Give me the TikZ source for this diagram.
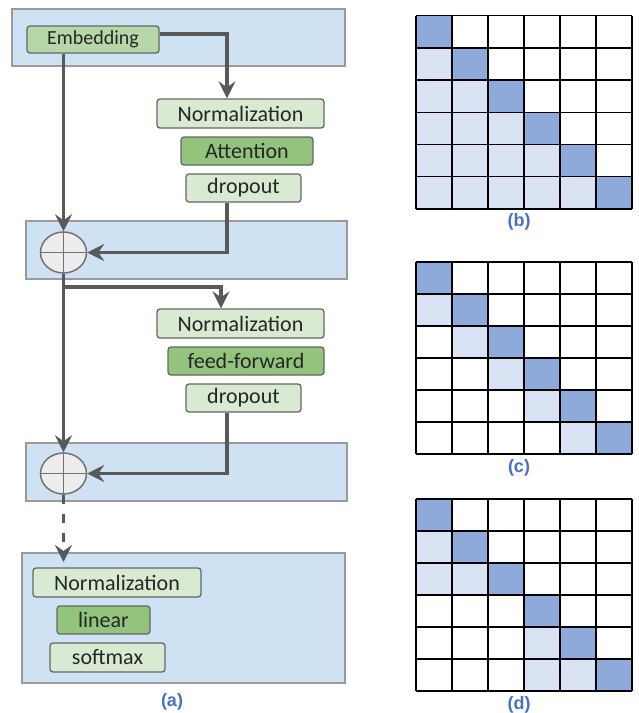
\documentclass[tikz,border=0pt]{standalone}
\usepackage{fontspec}
\setmainfont{Carlito}
\newfontfamily\labfont{Liberation Sans}
\usetikzlibrary{arrows.meta,shapes.geometric}
\definecolor{boxblue}{HTML}{CFE2F3}
\definecolor{boxedge}{HTML}{9A9A9A}
\definecolor{greenA}{HTML}{B6D7A8}
\definecolor{greenB}{HTML}{93C47D}
\definecolor{greenC}{HTML}{D9EAD3}
\definecolor{nodeedge}{HTML}{666666}
\definecolor{arrgray}{HTML}{595959}
\definecolor{celldark}{HTML}{8EAADB}
\definecolor{celllight}{HTML}{D9E2F3}
\definecolor{labblue}{HTML}{4472C4}
\tikzset{
  panel/.style={fill=boxblue, draw=boxedge, line width=1.3pt},
  blk/.style={draw=nodeedge, line width=1.3pt, rounded corners=3pt, inner sep=0pt,
    font=\fontsize{22}{26}\selectfont, text=black!85},
  lightblk/.style={blk, fill=greenC},
  darkblk/.style={blk, fill=greenB},
  arr/.style={draw=arrgray, line width=3.2pt, -{Stealth[length=17pt,width=17pt,inset=6pt]}},
  addop/.style={ellipse, draw=arrgray!85, line width=1.5pt, fill=black!7, minimum width=46pt, minimum height=41pt, inner sep=0pt},
  sublabel/.style={font=\labfont\bfseries\fontsize{18}{20}\selectfont, text=labblue},
  gridline/.style={draw=black, line width=1.5pt},
}
\begin{document}
\begin{tikzpicture}[x=1pt, y=-1pt]
\useasboundingbox (0,0) rectangle (639,713);
% panels
\draw[panel] (12,9) rectangle (345,66);
\draw[panel] (26,221) rectangle (347,279);
\draw[panel] (26,443) rectangle (347,501);
\draw[panel] (22,553) rectangle (345,683);
% blocks
\node[blk, fill=greenA, minimum width=132pt, minimum height=27pt, font=\fontsize{20}{24}\selectfont] (emb) at (93,39.5) {Embedding};
\node[lightblk, minimum width=167pt, minimum height=29pt] (norm1) at (240.5,113.5) {Normalization};
\node[darkblk, minimum width=132pt, minimum height=28pt] (att) at (247,151) {Attention};
\node[lightblk, minimum width=115pt, minimum height=28pt] (drop1) at (243.5,188) {dropout};
\node[lightblk, minimum width=167pt, minimum height=29pt] (norm2) at (240.5,323.5) {Normalization};
\node[darkblk, minimum width=156pt, minimum height=28pt] (ff) at (246,361) {feed-forward};
\node[lightblk, minimum width=115pt, minimum height=28pt] (drop2) at (243.5,398) {dropout};
\node[lightblk, minimum width=168pt, minimum height=29pt] (norm3) at (117,582.5) {Normalization};
\node[darkblk, minimum width=93pt, minimum height=28pt] (lin) at (103.5,620) {linear};
\node[lightblk, minimum width=115pt, minimum height=29pt] (soft) at (107.5,657.5) {softmax};
% add operators
\node[addop] (add1) at (63.5,252.5) {};
\draw[draw=arrgray!85, line width=1.5pt] (add1.north) -- (add1.south) (add1.west) -- (add1.east);
\node[addop] (add2) at (63.5,473.5) {};
\draw[draw=arrgray!85, line width=1.5pt] (add2.north) -- (add2.south) (add2.west) -- (add2.east);
% connectors
\coordinate (branch) at (63.5,287);
\coordinate (dashend) at (63.5,562);
\draw[arr] ([yshift=5.5pt]emb.east) -| ([xshift=-13.5pt]norm1.north);
\draw[arr] (add1.north |- emb.south) -- (add1.north);
\draw[arr] ([xshift=-16.5pt]drop1.south) |- (add1.east);
\draw[arr] (add1.south) -- (add2.north);
\draw[arr] (branch) -| ([xshift=-19.5pt]norm2.north);
\draw[arr] ([xshift=-16.5pt]drop2.south) |- (add2.east);
\draw[arr, dash pattern=on 9pt off 10pt] (add2.south) -- (dashend);
% labels
\node[sublabel] (la) at (172,702) {(a)};
\node[sublabel] (lb) at (519,222) {(b)};
\node[sublabel] (lc) at (519,468) {(c)};
\node[sublabel] (ld) at (519,705) {(d)};
% grid b
\begin{scope}[shift={(416,15.7)}, x=36pt, y=-32.2pt]
  \foreach \r in {1,...,5}{\foreach \c in {1,...,\r}{\fill[celllight] (\c-1,\r) rectangle ++(1,1);}}
  \foreach \i in {0,...,5}{\fill[celldark] (\i,\i) rectangle ++(1,1);}
  \foreach \i in {0,...,6}{\draw[gridline] (\i,0) -- (\i,6); \draw[gridline] (0,\i) -- (6,\i);}
\end{scope}
% grid c
\begin{scope}[shift={(416,262)}, x=36pt, y=-32pt]
  \foreach \r in {1,...,5}{\fill[celllight] (\r-1,\r) rectangle ++(1,1);}
  \foreach \i in {0,...,5}{\fill[celldark] (\i,\i) rectangle ++(1,1);}
  \foreach \i in {0,...,6}{\draw[gridline] (\i,0) -- (\i,6); \draw[gridline] (0,\i) -- (6,\i);}
\end{scope}
% grid d
\begin{scope}[shift={(416,499)}, x=36pt, y=-32pt]
  \foreach \c/\r in {0/1,0/2,1/2,3/4,3/5,4/5}{\fill[celllight] (\c,\r) rectangle ++(1,1);}
  \foreach \i in {0,...,5}{\fill[celldark] (\i,\i) rectangle ++(1,1);}
  \foreach \i in {0,...,6}{\draw[gridline] (\i,0) -- (\i,6); \draw[gridline] (0,\i) -- (6,\i);}
\end{scope}
\end{tikzpicture}
\end{document}
